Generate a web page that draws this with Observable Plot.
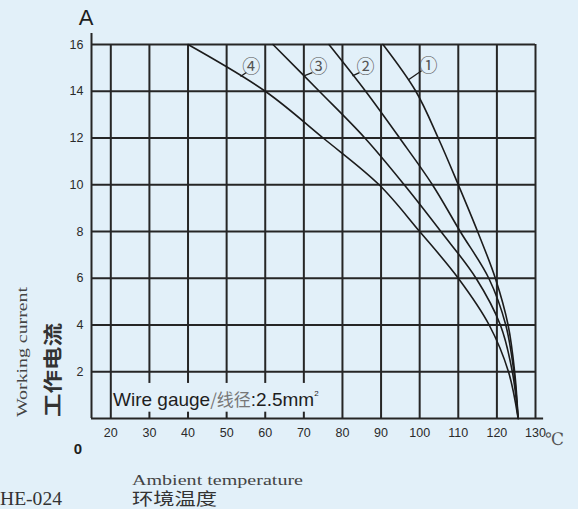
<!DOCTYPE html>
<html><head><meta charset="utf-8">
<script src="https://cdn.jsdelivr.net/npm/d3@7"></script>
<script src="https://cdn.jsdelivr.net/npm/@observablehq/plot@0.6"></script>
<style>
html,body{margin:0;padding:0;background:#e2f0f9;overflow:hidden;}
</style></head><body><div id="chart"></div>
<script>
// Current levels (A) at which each curve's temperature was read
const levels = [16, 14, 12, 10, 8, 6, 4, 2, 0];
// Ambient temperature (°C) of each curve at those levels
const curve1 = [90.5, 99, 104.8, 110, 115, 119.6, 122.9, 124.6, 125.5];
const curve2 = [76.5, 86, 94.8, 103.3, 110.5, 117.9, 122.3, 124.4, 125.5];
const curve3 = [62, 74, 85.8, 96, 105.5, 114.6, 120.9, 124.0, 125.5];
const curve4 = [40, 60, 75, 89.5, 100, 110, 118, 123, 125.5];
const seriesNames = ["①", "②", "③", "④"];

const xTicks = [20, 30, 40, 50, 60, 70, 80, 90, 100, 110, 120, 130];
const yTicks = [2, 4, 6, 8, 10, 12, 14, 16];

// curve label positions and leader lines (data units)
const labelX = [102.3, 86.0, 73.8, 56.4];
const labelY = [15.05, 15.02, 15.02, 15.02];
const leadFromX = [100.5, 84.4, 72.2, 55.1];
const leadFromY = [14.88, 14.8, 14.8, 14.8];
const leadToX = [97.2, 82.6, 70.2, 53.6];
const leadToY = [14.5, 14.66, 14.67, 14.63];

// note box (data units)
const noteBox = [{x1: 20.6, x2: 79.4, y1: 0.27, y2: 1.5}];

const bg = "#e2f0f9";
const ink = "#262626";

const curves = [curve1, curve2, curve3, curve4];
const rows = [];
curves.forEach((c, i) => c.forEach((t, j) => rows.push({series: seriesNames[i], temp: t, current: levels[j]})));
const labels = seriesNames.map((s, i) => ({s, x: labelX[i], y: labelY[i], fx: leadFromX[i], fy: leadFromY[i], tx: leadToX[i], ty: leadToY[i]}));

const plot = Plot.plot({
  width: 578, height: 509,
  marginLeft: 91, marginRight: 43, marginTop: 44, marginBottom: 91,
  x: {domain: [15, 130], label: null},
  y: {domain: [0, 16], label: null},
  style: {background: bg, fontFamily: "Liberation Sans, Arial, sans-serif", overflow: "visible"},
  marks: [
    Plot.ruleX(xTicks, {y1: 0, y2: 16, stroke: ink, strokeWidth: 2}),
    Plot.ruleX([15], {y1: 0, y2: 16.47, stroke: ink, strokeWidth: 2}),
    Plot.ruleY(yTicks, {x1: 15, x2: 130, stroke: ink, strokeWidth: 2}),
    Plot.ruleY([0], {x1: 15, x2: 132.1, stroke: ink, strokeWidth: 2}),
    Plot.rect(noteBox, {x1: "x1", x2: "x2", y1: "y1", y2: "y2", fill: bg}),
    Plot.line(rows, {x: "temp", y: "current", z: "series", curve: "catmull-rom", stroke: "#1c1c1c", strokeWidth: 1.6}),
    Plot.link(labels, {x1: "fx", y1: "fy", x2: "tx", y2: "ty", stroke: "#1c1c1c", strokeWidth: 1.3}),
    Plot.text(labels, {x: "x", y: "y", text: "s", fontSize: 18, fill: "#555", fontFamily: "Noto Sans CJK SC, DejaVu Sans, sans-serif"}),
    Plot.axisX({ticks: xTicks, tickSize: 0, tickPadding: 10, fontSize: 12.5, fill: "#2a2a2a", label: null}),
    Plot.axisY({ticks: yTicks, tickSize: 0, tickPadding: 8, fontSize: 12.5, fill: "#2a2a2a", label: null})
  ]
});
document.getElementById("chart").appendChild(plot);

const svg = d3.select(plot);
const X = v => plot.scale("x").apply(v);
const Y = v => plot.scale("y").apply(v);

function addText(str, x, y, opts) {
  const t = svg.append("text").attr("x", x).attr("y", y).text(str)
    .attr("font-family", opts.family).attr("font-size", opts.size)
    .attr("fill", opts.fill || ink).attr("font-weight", opts.weight || "normal")
    .attr("text-anchor", opts.anchor || "start");
  if (opts.len) t.attr("textLength", opts.len).attr("lengthAdjust", "spacingAndGlyphs");
  if (opts.transform) t.attr("transform", opts.transform).attr("x", 0).attr("y", 0);
  if (opts.baseline) t.attr("dominant-baseline", opts.baseline);
  return t;
}

// unit marks
addText("A", 86, 25, {family: "Liberation Sans, Arial", size: 22, anchor: "middle", fill: "#1e1e1e"});
addText("0", X(15) - 13, Y(0) + 36, {family: "Liberation Sans, Arial", size: 15, anchor: "middle", fill: "#1e1e1e", weight: "bold"});
addText("℃", X(130) + 10, Y(0) + 27, {family: "DejaVu Serif, Liberation Serif, serif", size: 17, anchor: "start", fill: "#555"});

// axis titles
addText("Working current", 0, 0, {family: "Liberation Serif, serif", size: 14.5, anchor: "middle", fill: "#444", len: 130, transform: "translate(27,352) rotate(-90)"});
addText("工作电流", 0, 0, {family: "Noto Sans CJK SC, sans-serif", size: 19, anchor: "middle", fill: "#333", weight: "bold", len: 94, baseline: "central", transform: "translate(51,370) rotate(-90)"});
addText("Ambient temperature", 132, 485, {family: "Liberation Serif, serif", size: 14, fill: "#444", len: 171});
addText("环境温度", 132, 505, {family: "Noto Sans CJK SC, sans-serif", size: 17, fill: "#333", len: 85});
addText("HE-024", 0, 505, {family: "Liberation Serif, serif", size: 19, fill: "#333", len: 62});

// note inside the chart
const note = svg.append("text").attr("x", X(20.7)).attr("y", Y(0.51)).attr("text-anchor", "start")
  .attr("font-family", "Liberation Sans, Arial").attr("font-size", 19).attr("fill", "#1e1e1e");
note.append("tspan").text("Wire gauge");
note.append("tspan").text("/线径").attr("fill", "#777").attr("font-family", "Noto Sans CJK SC, sans-serif").attr("font-size", 17);
note.append("tspan").text(":2.5mm");
note.append("tspan").text("2").attr("font-size", 8).attr("dy", -10);
</script>
</body></html>
